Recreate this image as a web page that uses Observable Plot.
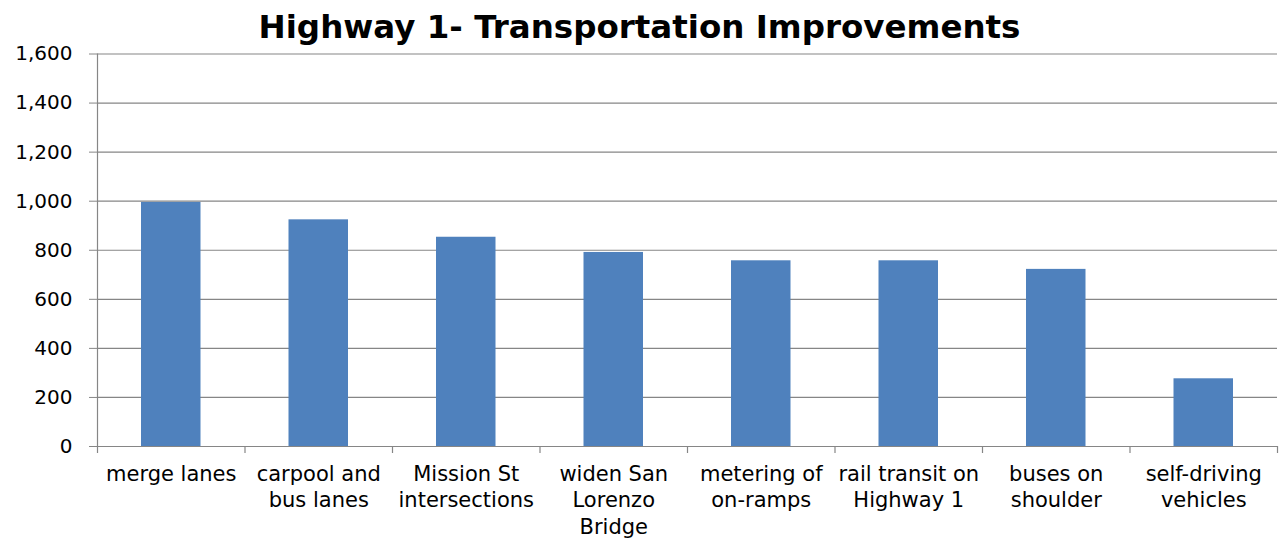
<!DOCTYPE html>
<html>
<head>
<meta charset="utf-8">
<script src="https://cdn.jsdelivr.net/npm/d3@7"></script>
<script src="https://cdn.jsdelivr.net/npm/@observablehq/plot@0.6"></script>
<style>
  html, body { margin: 0; padding: 0; background: #fff; }
  #title { font-family: "DejaVu Sans", Verdana, sans-serif; font-weight: bold; font-size: 32.5px; line-height: 31px; height: 26px; padding-top: 12px; text-align: center; color: #000; width: 1279px; overflow: visible; white-space: nowrap; }
</style>
</head>
<body>
<div id="title">Highway 1- Transportation Improvements</div>
<div id="chart"></div>
<script>
const categories = [
  "merge lanes",
  "carpool and\nbus lanes",
  "Mission St\nintersections",
  "widen San\nLorenzo\nBridge",
  "metering of\non-ramps",
  "rail transit on\nHighway 1",
  "buses on\nshoulder",
  "self-driving\nvehicles"
];
const values = [995, 924, 853, 791, 757, 757, 722, 276];
const yTicks = [0, 200, 400, 600, 800, 1000, 1200, 1400, 1600];

const data = categories.map((c, i) => ({category: c, index: i, value: values[i]}));
const gray = "#868686";

const chart = Plot.plot({
  width: 1279,
  height: 500,
  marginTop: 15.5,
  marginBottom: 92,
  marginLeft: 97,
  marginRight: 2,
  style: {fontFamily: "'DejaVu Sans', Verdana, sans-serif", fontSize: "20px", color: "#000", background: "transparent"},
  x: {type: "linear", domain: [0, categories.length], axis: null},
  y: {domain: [0, 1600], axis: null},
  marks: [
    Plot.ruleY(yTicks.filter(d => d > 0), {stroke: gray, strokeWidth: 1.2, strokeOpacity: 1}),
    Plot.rectY(data, {x1: d => d.index, x2: d => d.index + 1, y1: 0, y2: "value", fill: "#4f81bd", insetLeft: 44, insetRight: 44}),
    Plot.axisY({ticks: yTicks, tickFormat: d3.format(","), tickSize: 8, tickPadding: 17, stroke: gray, fontSize: 20, fill: "#000", label: null}),
    Plot.ruleX([0], {stroke: gray, strokeWidth: 1.2}),
    Plot.ruleY([0], {stroke: gray, strokeWidth: 1.2}),
    Plot.axisX({ticks: d3.range(0, categories.length + 1), tickFormat: () => "", tickSize: 7, stroke: gray, strokeWidth: 1.2, label: null}),
    Plot.axisX({ticks: data.map(d => d.index + 0.5), tickFormat: (d) => categories[Math.floor(d)], tickSize: 0, tickPadding: 16, fontSize: 21, lineHeight: 1.25, fill: "#000", label: null})
  ]
});
document.getElementById("chart").appendChild(chart);
</script>
</body>
</html>
